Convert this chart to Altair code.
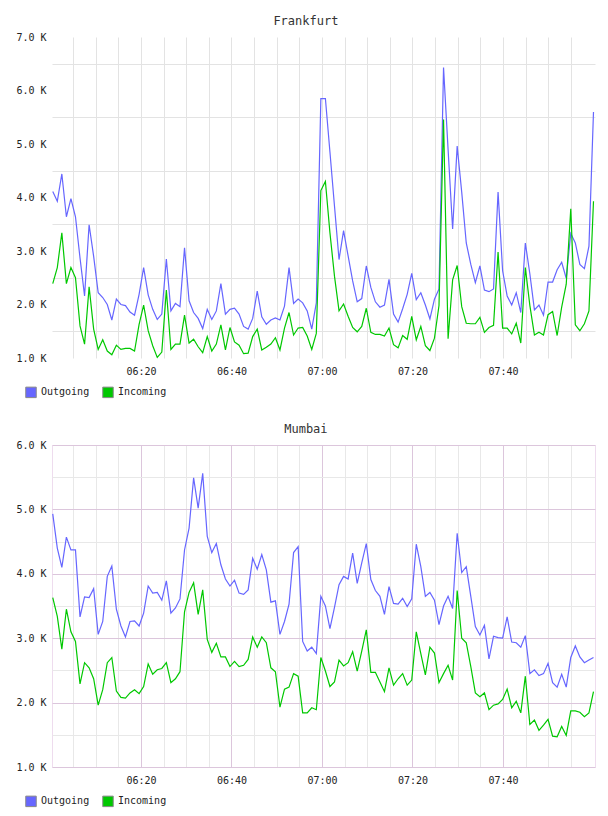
import altair as alt
import pandas as pd

FONT = "DejaVu Sans Mono"
series_names = ["Outgoing", "Incoming"]
series_colors = ["#6666ff", "#00c800"]

frankfurt_out = [4110, 3930, 4440, 3640, 3980, 3640, 2870, 2160, 3490, 2900,
                 2220, 2130, 2000, 1710, 2100, 2000, 1980, 1860, 1800, 2190,
                 2690, 2180, 1910, 1720, 1820, 2850, 1880, 2020, 1960, 3060,
                 2070, 1850, 1740, 1550, 1910, 1720, 1880, 2390, 1820, 1910,
                 1930, 1820, 1590, 1540, 1740, 2250, 1770, 1630, 1710, 1750,
                 1710, 1970, 2690, 2020, 2100, 2030, 1880, 1540, 2030, 5850,
                 5850, 4850, 3840, 2840, 3380, 2910, 2440, 2050, 2110, 2720,
                 2320, 2050, 1950, 1990, 2470, 1820, 1670, 1920, 2190, 2580,
                 2090, 2220, 1990, 1730, 2100, 2290, 6430, 4900, 3410, 4960,
                 4100, 3150, 2750, 2410, 2720, 2270, 2240, 2290, 4100, 2630,
                 2160, 1990, 2220, 1850, 3150, 2570, 1900, 1990, 1800, 2420,
                 2420, 2650, 2790, 2490, 3330, 3150, 2750, 2670, 3090, 5600]
frankfurt_in = [2390, 2690, 3340, 2390, 2690, 2500, 1600, 1260, 2330, 1540,
                1160, 1340, 1130, 1060, 1240, 1160, 1180, 1180, 1130, 1630,
                1990, 1510, 1230, 1010, 1110, 2270, 1160, 1260, 1260, 1800,
                1280, 1350, 1210, 1100, 1400, 1130, 1260, 1620, 1150, 1570,
                1300, 1240, 1080, 1090, 1400, 1540, 1150, 1200, 1260, 1380,
                1150, 1560, 1850, 1430, 1560, 1570, 1410, 1160, 1460, 4130,
                4300, 3340, 2530, 1880, 2010, 1780, 1570, 1490, 1590, 1930,
                1480, 1440, 1440, 1410, 1560, 1250, 1190, 1420, 1350, 1780,
                1340, 1590, 1230, 1140, 1370, 1980, 5460, 1360, 2460, 2730,
                1960, 1650, 1640, 1640, 1760, 1480, 1570, 1610, 2980, 1560,
                1560, 1450, 1650, 1280, 2690, 1980, 1430, 1480, 1430, 1810,
                1870, 1420, 1950, 2380, 3790, 1620, 1510, 1640, 1880, 3930]
mumbai_out = [4930, 4400, 4100, 4570, 4370, 4370, 3330, 3640, 3630, 3770,
              3060, 3260, 3960, 4120, 3450, 3190, 3020, 3260, 3270, 3190,
              3390, 3810, 3700, 3710, 3590, 3890, 3390, 3470, 3610, 4370,
              4710, 5490, 5020, 5560, 4580, 4330, 4470, 4140, 3920, 3810,
              3900, 3700, 3680, 3750, 4240, 4070, 4300, 4060, 3560, 3580,
              3060, 3260, 3530, 4330, 4420, 2950, 2800, 2860, 2760, 3650,
              3500, 3150, 3480, 3830, 3960, 3920, 4320, 3850, 4170, 4470,
              3910, 3740, 3650, 3370, 3800, 3540, 3530, 3620, 3490, 3610,
              4460, 4110, 3650, 3710, 3590, 3210, 3500, 3650, 3460, 4630,
              4020, 4110, 3650, 3180, 3050, 3200, 2680, 3030, 3010, 3000,
              3330, 2940, 2930, 2860, 3040, 2450, 2510, 2420, 2450, 2610,
              2310, 2240, 2440, 2240, 2700, 2880, 2710, 2620, 2660, 2700]
mumbai_in = [3630, 3340, 2830, 3450, 3100, 2950, 2290, 2620, 2540, 2370,
             1960, 2200, 2620, 2700, 2180, 2080, 2070, 2150, 2200, 2140,
             2250, 2600, 2440, 2510, 2530, 2620, 2310, 2370, 2480, 3410,
             3710, 3860, 3370, 3750, 2980, 2780, 2920, 2710, 2710, 2560,
             2640, 2560, 2580, 2670, 3020, 2860, 3020, 2930, 2540, 2480,
             1930, 2210, 2240, 2450, 2410, 1840, 1840, 1920, 1890, 2700,
             2490, 2250, 2320, 2660, 2570, 2620, 2790, 2490, 2800, 3130,
             2470, 2470, 2320, 2170, 2540, 2270, 2370, 2450, 2270, 2350,
             3100, 2760, 2430, 2860, 2770, 2310, 2450, 2580, 2350, 3740,
             3000, 2930, 2560, 2150, 2090, 2150, 1890, 1960, 1980, 2050,
             2210, 1920, 2020, 1840, 2410, 1660, 1730, 1570, 1650, 1740,
             1480, 1470, 1630, 1490, 1870, 1870, 1850, 1780, 1840, 2170]

times = pd.date_range("2024-01-01 06:00:30", "2024-01-01 08:00:00", periods=120)
x_tick_minutes = list(range(5, 120, 5))  # 06:05 .. 07:55


def dt(h, m, s=0):
    return alt.DateTime(year=2024, month=1, date=1, hours=h, minutes=m, seconds=s)


x_ticks = [dt(6 + mm // 60, mm % 60) for mm in x_tick_minutes]


def city_chart(title, out_vals, in_vals, ymax, height, major, minor, border):
    n = len(times)
    df = pd.DataFrame({
        "time": list(times) * 2,
        "value": out_vals + in_vals,
        "series": [series_names[0]] * n + [series_names[1]] * n,
    })
    if major is None:
        y_grid = {"condition": {"test": "datum.value % 1000 == 0", "value": "transparent"},
                  "value": minor}
        x_grid = minor
    else:
        y_grid = {"condition": {"test": "datum.value % 1000 == 0", "value": major},
                  "value": minor}
        x_grid = {"condition": {"test": "minutes(datum.value) % 20 == 0", "value": major},
                  "value": minor}
    x = alt.X("time:T",
              scale=alt.Scale(domain=[dt(6, 0, 20), dt(8, 0, 20)]),
              axis=alt.Axis(values=x_ticks, title=None, grid=True, gridColor=x_grid,
                            ticks=False, domain=False, labelPadding=8,
                            labelOverlap=False, labelFlush=False,
                            labelExpr="minutes(datum.value) % 20 == 0 ? timeFormat(datum.value, '%H:%M') : ''",
                            labelFont=FONT, labelFontSize=10, labelColor="#222"))
    y = alt.Y("value:Q",
              scale=alt.Scale(domain=[1000, ymax], nice=False, zero=False),
              axis=alt.Axis(values=list(range(1000, ymax + 1, 500)), title=None, grid=True,
                            gridColor=y_grid, ticks=False, domain=False, labelPadding=6,
                            labelOverlap=False,
                            labelExpr="datum.value % 1000 == 0 ? format(datum.value / 1000, '.1f') + ' K' : ''",
                            labelFont=FONT, labelFontSize=10, labelColor="#222"))
    base = alt.Chart(df).encode(x=x, y=y)
    lines = base.mark_line(strokeWidth=1.2).encode(
        color=alt.Color("series:N", scale=alt.Scale(domain=series_names, range=series_colors),
                        legend=None),
        detail="series:N",
    )
    squares = base.mark_square(size=0, opacity=1, filled=True).encode(
        fill=alt.Fill("series:N", sort=series_names, scale=alt.Scale(range=series_colors),
                      legend=alt.Legend(orient="none", legendX=-27, legendY=height + 28,
                                        direction="horizontal", title=None,
                                        symbolType="square", symbolSize=110,
                                        symbolStrokeColor="#888", symbolStrokeWidth=1,
                                        symbolOpacity=1, labelFont=FONT, labelFontSize=10,
                                        labelColor="#222", columnPadding=10, labelOffset=4,
                                        padding=0)),
    )
    return alt.layer(lines, squares).properties(
        width=543, height=height,
        title=alt.TitleParams(title, font=FONT, fontSize=12, fontWeight="normal",
                              color="#333", anchor="middle", frame="bounds", offset=4),
        view=alt.ViewBackground(stroke=border, strokeWidth=1),
    )


fra = city_chart("Frankfurt", frankfurt_out, frankfurt_in, 7000, 321, None, "#e3e3e3", "transparent")
mum = city_chart("Mumbai", mumbai_out, mumbai_in, 6000, 322, "#dcc6dc", "#e8e8e8", "#eedcee")

chart = alt.vconcat(fra, mum, spacing=87, bounds="flush").resolve_scale(
    color="independent", fill="independent"
).resolve_legend(fill="independent").properties(
    padding={"left": 15, "top": 14, "right": 5, "bottom": 5}
).configure(background="white")

chart.save("out.html", embed_options={"renderer": "svg", "actions": False})
